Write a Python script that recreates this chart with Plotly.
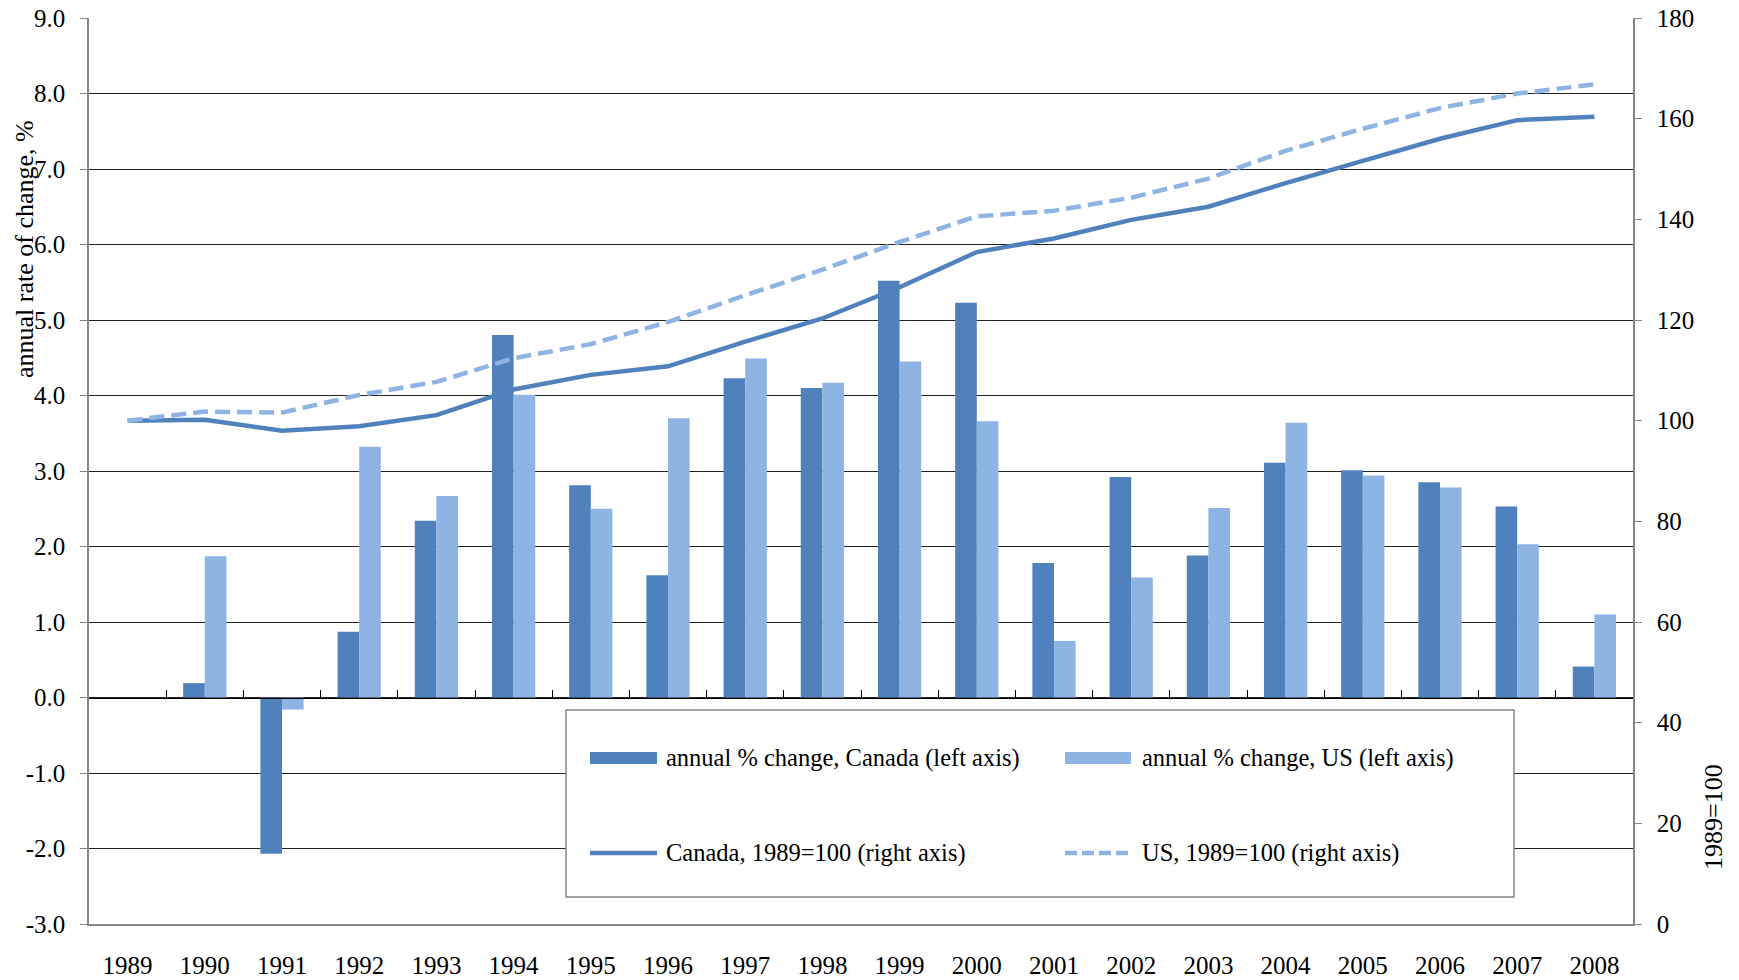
import plotly.graph_objects as go

# annual % change and index levels (1989=100)
years = list(range(1989, 2009))
canada_pct = [None, 0.19, -2.07, 0.87, 2.34, 4.80, 2.81, 1.62, 4.23, 4.10,
              5.52, 5.23, 1.78, 2.92, 1.88, 3.11, 3.01, 2.85, 2.53, 0.41]
us_pct = [None, 1.87, -0.16, 3.32, 2.67, 4.01, 2.50, 3.70, 4.49, 4.17,
          4.45, 3.66, 0.75, 1.59, 2.51, 3.64, 2.94, 2.78, 2.03, 1.10]
canada_idx = [100.0, 100.2, 98.0, 98.9, 101.1, 106.2, 109.1, 110.8, 115.7, 120.3,
              126.5, 133.5, 136.2, 139.9, 142.5, 147.2, 151.6, 156.0, 159.7, 160.4]
us_idx = [100.0, 101.8, 101.6, 105.1, 107.7, 112.4, 115.2, 119.6, 124.9, 130.0,
          135.5, 140.6, 141.7, 144.3, 148.1, 153.6, 158.0, 162.1, 165.0, 166.8]

left_ticks = [-3, -2, -1, 0, 1, 2, 3, 4, 5, 6, 7, 8, 9]
right_ticks = [0, 20, 40, 60, 80, 100, 120, 140, 160, 180]

legend_names = ["annual % change, Canada (left axis)", "annual % change, US (left axis)",
                "Canada, 1989=100 (right axis)", "US, 1989=100 (right axis)"]

DARK = "#4F81BD"
LIGHT = "#8EB4E3"
AXIS_GREY = "#868686"
FONT = "Liberation Serif"
W_PX, H_PX = 1739, 980
L, R, T, B = 89, 106, 18, 56
PW, PH = W_PX - L - R, H_PX - T - B


def px(x):
    return (x - L) / PW


def py(y):
    return 1 - (y - T) / PH


fig = go.Figure()
fig.add_trace(go.Bar(x=years, y=canada_pct, name=legend_names[0],
                     marker=dict(color=DARK, line=dict(width=0))))
fig.add_trace(go.Bar(x=years, y=us_pct, name=legend_names[1],
                     marker=dict(color=LIGHT, line=dict(width=0))))
fig.add_trace(go.Scatter(x=years, y=canada_idx, name=legend_names[2], mode="lines",
                         line=dict(color=DARK, width=4.5), xaxis="x2", yaxis="y2"))
fig.add_trace(go.Scatter(x=years, y=us_idx, name=legend_names[3], mode="lines",
                         line=dict(color=LIGHT, width=4.5, dash="15px,7px"),
                         xaxis="x2", yaxis="y2"))

xr = [years[0] - 0.5, years[-1] + 0.5]
tick_font = dict(family=FONT, size=25, color="black")

fig.update_layout(
    width=W_PX, height=H_PX,
    margin=dict(l=L, r=R, t=T, b=B, autoexpand=False),
    paper_bgcolor="white", plot_bgcolor="white",
    barmode="group", bargap=0.44, bargroupgap=0,
    showlegend=False,
    font=dict(family=FONT, size=25, color="black"),
    xaxis=dict(range=xr, tickmode="array", tickvals=years, automargin=False,
               ticktext=[str(y) for y in years], ticks="", showgrid=False,
               showline=True, linecolor=AXIS_GREY, linewidth=1.5,
               tickfont=tick_font, ticklabelstandoff=18),
    xaxis2=dict(range=xr, overlaying="x", anchor="free", position=0.25,
                tickmode="array", tickvals=[y + 0.5 for y in years[:-1]],
                ticks="inside", ticklen=8, tickcolor="black", tickwidth=1,
                showticklabels=False, showgrid=False, zeroline=False,
                showline=True, linecolor="black", linewidth=1, automargin=False),
    yaxis=dict(range=[-3, 9], tickmode="array", tickvals=left_ticks,
               ticktext=[f"{v:.1f}" for v in left_ticks], automargin=False,
               showgrid=True, gridcolor="#222222", gridwidth=1, zeroline=False,
               showline=True, linecolor=AXIS_GREY, linewidth=1.5,
               ticks="outside", ticklen=7, tickcolor=AXIS_GREY,
               tickfont=tick_font, ticklabelstandoff=10),
    yaxis2=dict(range=[0, 180], overlaying="y", side="right", anchor="x2",
                tickmode="array", tickvals=right_ticks, showgrid=False,
                zeroline=False, showline=True, linecolor=AXIS_GREY, linewidth=1.5,
                ticks="outside", ticklen=7, tickcolor=AXIS_GREY, automargin=False,
                tickfont=tick_font, ticklabelstandoff=10),
    yaxis3=dict(range=[0, 180], overlaying="y", side="right", anchor="x2",
                tickmode="array", tickvals=right_ticks, showgrid=False,
                zeroline=False, showline=False, showticklabels=False,
                ticks="inside", ticklen=7, tickcolor=AXIS_GREY, automargin=False),
)

# legend box drawn as in the original
shapes = [dict(type="rect", xref="paper", yref="paper",
               x0=px(566), x1=px(1514), y0=py(710), y1=py(897),
               fillcolor="white", line=dict(color=AXIS_GREY, width=1.5), layer="above")]
annotations = []
cols = [(590, 657, 664), (1065, 1131, 1140)]
rows = [758, 853]
for i, name in enumerate(legend_names):
    c0, c1, tx = cols[i % 2]
    ry = rows[i // 2]
    color = DARK if i % 2 == 0 else LIGHT
    if i < 2:
        shapes.append(dict(type="rect", xref="paper", yref="paper",
                           x0=px(c0), x1=px(c1), y0=py(ry - 6), y1=py(ry + 6),
                           fillcolor=color, line=dict(width=0), layer="above"))
    else:
        shapes.append(dict(type="line", xref="paper", yref="paper",
                           x0=px(c0), x1=px(c1), y0=py(ry), y1=py(ry),
                           line=dict(color=color, width=4.5,
                                     dash="solid" if i == 2 else "12px,5px"),
                           layer="above"))
    annotations.append(dict(text=name, xref="paper", yref="paper",
                            x=px(tx), y=py(ry), xanchor="left", yanchor="middle",
                            showarrow=False, font=dict(family=FONT, size=24.5, color="black")))

annotations.append(dict(text="annual rate of change, %", xref="paper", yref="paper",
                        x=px(24), y=py(249), textangle=-90, showarrow=False,
                        xanchor="center", yanchor="middle",
                        font=dict(family=FONT, size=26, color="black")))
annotations.append(dict(text="1989=100", xref="paper", yref="paper",
                        x=px(1713), y=py(817), textangle=-90, showarrow=False,
                        xanchor="center", yanchor="middle",
                        font=dict(family=FONT, size=26, color="black")))

fig.update_layout(shapes=shapes, annotations=annotations)

fig.write_html("out.html", config={"displayModeBar": False},
               post_script="document.body.style.margin='0';")
